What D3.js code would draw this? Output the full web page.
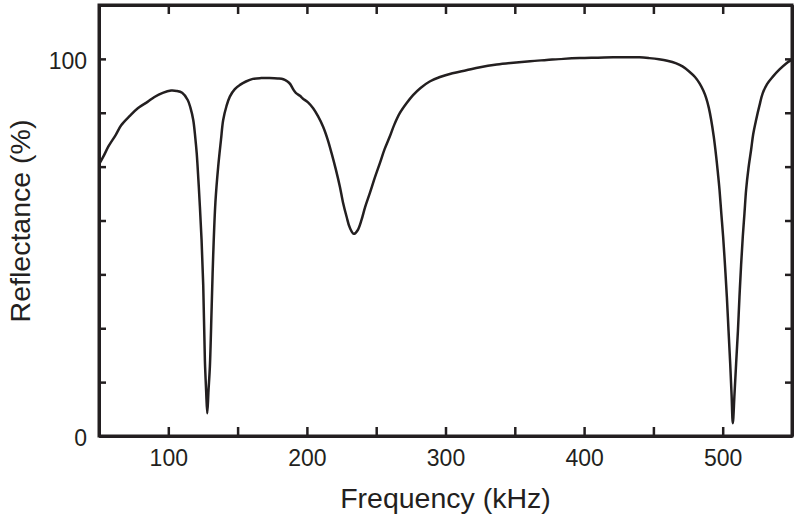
<!DOCTYPE html>
<html>
<head>
<meta charset="utf-8">
<script src="https://cdn.jsdelivr.net/npm/d3@7"></script>
<style>
  body { margin: 0; background: #fff; }
  #wrapper svg { display: block; }
</style>
</head>
<body>
<div id="wrapper"></div>
<script>
// frequency (kHz) and reflectance (%)
const frequency = [
  50, 53, 57, 62, 66, 72, 78, 85, 90, 96, 102, 106, 110, 114, 116, 118, 119.5,
  120.5, 121.7, 122.8, 124, 125.2, 126.4, 127.3, 128.1, 129, 130, 131.3, 132.4,
  134, 136, 138, 139.6, 142, 144.4, 148, 151.7, 156, 161, 167, 173, 179, 183,
  186, 188, 190, 192, 195, 197, 201, 204.5, 208, 211.7, 215, 217.8, 221, 223.8,
  226, 228.6, 231, 233.9, 236.5, 239.4, 242, 245.4, 249, 252.6, 256, 259.8,
  263, 267, 272, 276.6, 282, 288.6, 296, 305, 315, 325, 337, 349, 361, 373,
  385, 397, 410, 421, 430, 440, 447, 454, 460, 466.5, 471, 476, 480, 483.3,
  486, 488.1, 490, 491.7, 493.5, 495.3, 496.6, 497.7, 499, 500.3, 501.7, 503,
  504.2, 505.4, 506.4, 507.3, 508.5, 509.7, 511, 512.1, 513.3, 514.5, 515.7,
  516.9, 518.6, 520.5, 522, 524.1, 526.5, 528.9, 532, 536.2, 541, 545.8, 550
]
const reflectance = [
  72, 74, 76.9, 79.8, 82.4, 84.8, 86.9, 88.6, 89.9, 91, 91.6, 91.5, 91, 89.1, 87,
  83.8, 79, 75, 68, 60.8, 52, 40, 20, 12, 6, 12, 18.4, 34.3, 48,
  62, 71.4, 78.5, 83.8, 87.5, 90, 92, 93.1, 94, 94.7, 94.9, 94.9, 94.8, 94.6,
  94, 93.3, 92, 91, 90.2, 89.5, 88.4, 86.9, 84.8, 82, 78.6, 75, 70.5, 66.1,
  62, 58.2, 55.2, 53.6, 54.5, 57.3, 60.7, 64.4, 68.5, 72.3, 76, 79.4,
  82.5, 85.6, 88.3, 90.4, 92.3, 94, 95.2, 96.2, 97, 97.8, 98.5, 99, 99.4, 99.7,
  100, 100.2, 100.3, 100.4, 100.4, 100.4, 100.2, 99.9, 99.5, 98.8, 98, 96.6, 95.2, 93.5,
  91.6, 89.6, 87, 83.8, 79.5, 74.1, 69.5, 65.3, 59, 52.9, 45, 36.9,
  28, 19.3, 11, 3.4, 11, 19.3, 28, 36.9, 45.5, 52.9, 59,
  65.3, 71, 75.9, 80, 83.8, 87.6, 90.9, 93.3, 95.3, 97.2, 98.8, 99.8
]

const xTicks = [50, 100, 150, 200, 250, 300, 350, 400, 450, 500, 550]
const xLabels = [100, 200, 300, 400, 500]
const yTicks = [0, 1, 2, 3, 4, 5, 6, 7, 8].map((k) => (k * 100) / 7)
const yLabels = [0, 100]

const dataset = frequency.map((f, i) => ({ f, r: reflectance[i] }))

const dimensions = {
  width: 800,
  height: 515,
  margin: { top: 5, right: 8, bottom: 79, left: 99 },
}
dimensions.boundedWidth =
  dimensions.width - dimensions.margin.left - dimensions.margin.right
dimensions.boundedHeight =
  dimensions.height - dimensions.margin.top - dimensions.margin.bottom

const ink = "#231f20"

const wrapper = d3
  .select("#wrapper")
  .append("svg")
  .attr("width", dimensions.width)
  .attr("height", dimensions.height)
  .style("font-family", "'Liberation Sans', Arial, sans-serif")

const bounds = wrapper
  .append("g")
  .attr("transform", `translate(${dimensions.margin.left},${dimensions.margin.top})`)

const xScale = d3.scaleLinear().domain([50, 550]).range([0, dimensions.boundedWidth])
const yScale = d3
  .scaleLinear()
  .domain([0, 800 / 7])
  .range([dimensions.boundedHeight, 0])

// curve
const lineGenerator = d3
  .line()
  .x((d) => xScale(d.f))
  .y((d) => yScale(d.r))
  .curve(d3.curveCatmullRom.alpha(0.5))

bounds
  .append("path")
  .datum(dataset)
  .attr("d", lineGenerator)
  .attr("fill", "none")
  .attr("stroke", ink)
  .attr("stroke-width", 2.5)
  .attr("stroke-linejoin", "round")

// axes, ticks pointing inward
const fmtX = (d) => (xLabels.includes(d) ? d : "")
const fmtY = (d) => {
  const v = Math.round(d)
  return yLabels.includes(v) && Math.abs(d - v) < 1e-6 ? v : ""
}

const xAxis = bounds
  .append("g")
  .attr("transform", `translate(0,${dimensions.boundedHeight})`)
  .call(d3.axisBottom(xScale).tickValues(xTicks).tickSize(-9).tickSizeOuter(0).tickFormat(fmtX))
const xAxisTop = bounds
  .append("g")
  .call(d3.axisTop(xScale).tickValues(xTicks).tickSize(-9).tickSizeOuter(0).tickFormat(""))
const yAxis = bounds
  .append("g")
  .call(d3.axisLeft(yScale).tickValues(yTicks).tickSize(-7).tickSizeOuter(0).tickPadding(12).tickFormat(fmtY))
const yAxisRight = bounds
  .append("g")
  .attr("transform", `translate(${dimensions.boundedWidth},0)`)
  .call(d3.axisRight(yScale).tickValues(yTicks).tickSize(-7).tickSizeOuter(0).tickFormat(""))

;[xAxis, xAxisTop, yAxis, yAxisRight].forEach((g) => {
  g.select(".domain").attr("stroke", ink).attr("stroke-width", 3)
  g.selectAll(".tick line").attr("stroke", ink).attr("stroke-width", 2.5)
  g.selectAll(".tick text").attr("fill", ink).style("font-size", "23px")
})
xAxis.selectAll(".tick text").attr("y", 14)
yAxis.selectAll(".tick text").attr("dy", "0.4em")

// frame corners
bounds
  .append("rect")
  .attr("width", dimensions.boundedWidth)
  .attr("height", dimensions.boundedHeight)
  .attr("fill", "none")
  .attr("stroke", ink)
  .attr("stroke-width", 3)

// titles
wrapper
  .append("text")
  .attr("x", dimensions.margin.left + xScale(300))
  .attr("y", 508)
  .attr("text-anchor", "middle")
  .attr("fill", ink)
  .style("font-size", "28.5px")
  .text("Frequency (kHz)")

wrapper
  .append("text")
  .attr("transform", `translate(30,221) rotate(-90)`)
  .attr("text-anchor", "middle")
  .attr("fill", ink)
  .style("font-size", "28.5px")
  .text("Reflectance (%)")
</script>
</body>
</html>
